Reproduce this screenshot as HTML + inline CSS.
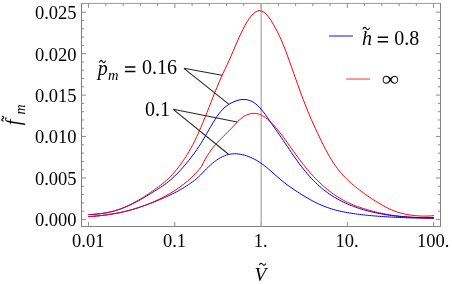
<!DOCTYPE html>
<html><head><meta charset="utf-8"><style>
html,body{margin:0;padding:0;background:#fff;}
svg{display:block;font-family:"Liberation Serif",serif;will-change:transform;}
text{fill:#000;}
</style></head><body>
<svg width="452" height="284" viewBox="0 0 452 284">
<rect width="452" height="284" fill="#fff"/>
<path d="M81.5 3.1V227.0M440.5 3.1V227.0M81.0 226.5H441.0" fill="none" stroke="#808080" stroke-width="1"/>
<path d="M81.0 3.45H441.0" fill="none" stroke="#808080" stroke-width="0.8"/>
<path d="M81.5 219.45h4.5 M440.5 219.45h-4.5 M81.5 211.16h2.6 M440.5 211.16h-2.6 M81.5 202.87h2.6 M440.5 202.87h-2.6 M81.5 194.58h2.6 M440.5 194.58h-2.6 M81.5 186.29h2.6 M440.5 186.29h-2.6 M81.5 178.00h4.5 M440.5 178.00h-4.5 M81.5 169.71h2.6 M440.5 169.71h-2.6 M81.5 161.42h2.6 M440.5 161.42h-2.6 M81.5 153.13h2.6 M440.5 153.13h-2.6 M81.5 144.84h2.6 M440.5 144.84h-2.6 M81.5 136.55h4.5 M440.5 136.55h-4.5 M81.5 128.26h2.6 M440.5 128.26h-2.6 M81.5 119.97h2.6 M440.5 119.97h-2.6 M81.5 111.68h2.6 M440.5 111.68h-2.6 M81.5 103.39h2.6 M440.5 103.39h-2.6 M81.5 95.10h4.5 M440.5 95.10h-4.5 M81.5 86.81h2.6 M440.5 86.81h-2.6 M81.5 78.52h2.6 M440.5 78.52h-2.6 M81.5 70.23h2.6 M440.5 70.23h-2.6 M81.5 61.94h2.6 M440.5 61.94h-2.6 M81.5 53.65h4.5 M440.5 53.65h-4.5 M81.5 45.36h2.6 M440.5 45.36h-2.6 M81.5 37.07h2.6 M440.5 37.07h-2.6 M81.5 28.78h2.6 M440.5 28.78h-2.6 M81.5 20.49h2.6 M440.5 20.49h-2.6 M81.5 12.20h4.5 M440.5 12.20h-4.5 M88.60 3.5v4.5 M105.85 3.5v2.6 M123.10 3.5v2.6 M140.35 3.5v2.6 M157.60 3.5v2.6 M174.85 3.5v4.5 M192.10 3.5v2.6 M209.35 3.5v2.6 M226.60 3.5v2.6 M243.85 3.5v2.6 M261.10 3.5v4.5 M278.35 3.5v2.6 M295.60 3.5v2.6 M312.85 3.5v2.6 M330.10 3.5v2.6 M347.35 3.5v4.5 M364.60 3.5v2.6 M381.85 3.5v2.6 M399.10 3.5v2.6 M416.35 3.5v2.6 M433.60 3.5v4.5 M88.60 226.5v-4.5 M174.85 226.5v-4.5 M261.10 226.5v-4.5 M347.35 226.5v-4.5 M433.60 226.5v-4.5" stroke="#808080" stroke-width="0.9" fill="none"/>
<line x1="261.2" y1="3.5" x2="261.2" y2="226.5" stroke="#b2b2b2" stroke-width="1.4"/>
<path d="M88.20 216.43L90.20 216.29L92.20 216.13L94.21 215.96L96.21 215.78L98.21 215.59L100.21 215.38L102.21 215.16L104.21 214.91L106.22 214.66L108.22 214.38L110.22 214.08L112.22 213.76L114.22 213.42L116.23 213.06L118.23 212.68L120.23 212.27L122.23 211.84L124.23 211.38L126.23 210.90L128.24 210.39L130.24 209.85L132.24 209.29L134.24 208.70L136.24 208.08L138.24 207.44L140.25 206.78L142.25 206.09L144.25 205.39L146.25 204.66L148.25 203.92L150.26 203.16L152.26 202.39L154.26 201.60L156.26 200.79L158.26 199.97L160.26 199.13L162.27 198.27L164.27 197.39L166.27 196.49L168.27 195.57L170.27 194.62L172.28 193.64L174.28 192.64L176.28 191.60L178.28 190.52L180.28 189.41L182.28 188.25L184.29 187.04L186.29 185.78L188.29 184.46L190.29 183.07L192.29 181.62L194.29 180.08L196.30 178.45L198.30 176.73L200.30 174.90L200.30 174.90L202.31 172.73L204.33 170.62L206.34 168.58L208.35 166.62L210.36 164.76L212.38 163.01L214.39 161.38L216.40 159.89L218.42 158.55L220.43 157.36L222.44 156.33L224.46 155.46L226.47 154.76L228.48 154.21L230.49 153.83L232.51 153.60L234.52 153.51L236.53 153.57L238.55 153.76L240.56 154.07L242.57 154.50L244.58 155.03L246.60 155.66L248.61 156.38L250.62 157.20L252.64 158.12L254.65 159.14L256.66 160.26L258.68 161.48L260.69 162.81L262.70 164.24L264.71 165.76L266.73 167.37L268.74 169.07L270.75 170.82L272.77 172.61L274.78 174.41L276.79 176.19L278.80 177.95L280.82 179.66L282.83 181.31L284.84 182.90L286.86 184.43L288.87 185.89L290.88 187.31L292.89 188.68L294.91 190.03L296.92 191.35L298.93 192.65L300.95 193.93L302.96 195.19L304.97 196.42L306.99 197.63L309.00 198.79L311.01 199.92L313.02 201.00L315.04 202.03L317.05 203.02L319.06 203.95L321.08 204.84L323.09 205.68L325.10 206.47L327.11 207.21L329.13 207.90L331.14 208.55L333.15 209.16L335.17 209.72L337.18 210.25L339.19 210.74L341.21 211.19L343.22 211.61L345.23 212.01L347.24 212.38L349.26 212.72L351.27 213.05L353.28 213.35L355.30 213.64L357.31 213.91L359.32 214.16L361.33 214.40L363.35 214.63L365.36 214.85L367.37 215.05L369.39 215.25L371.40 215.43L373.41 215.61L375.42 215.77L377.44 215.93L379.45 216.08L381.46 216.23L383.48 216.36L385.49 216.49L387.50 216.62L389.52 216.73L391.53 216.84L393.54 216.95L395.55 217.05L397.57 217.14L399.58 217.23L401.59 217.31L403.61 217.39L405.62 217.47L407.63 217.54L409.64 217.60L411.66 217.67L413.67 217.73L415.68 217.78L417.70 217.84L419.71 217.89L421.72 217.93L423.74 217.98L425.75 218.02L427.76 218.06L429.77 218.09L431.79 218.13L433.80 218.16" stroke="#0000ff" stroke-width="1" fill="none" stroke-linejoin="round" transform="translate(0.15,0.25)"/>
<path d="M88.20 216.43L90.22 216.28L92.23 216.12L94.25 215.95L96.26 215.76L98.28 215.56L100.30 215.35L102.31 215.12L104.33 214.87L106.34 214.60L108.36 214.31L110.38 214.01L112.39 213.68L114.41 213.34L116.42 212.97L118.44 212.57L120.46 212.16L122.47 211.72L124.49 211.25L126.51 210.76L128.52 210.24L130.54 209.70L132.55 209.13L134.57 208.53L136.59 207.91L138.60 207.26L140.62 206.57L142.63 205.86L144.65 205.12L146.67 204.35L148.68 203.55L150.70 202.72L152.71 201.86L154.73 200.96L156.75 200.04L158.76 199.09L160.78 198.10L162.79 197.08L164.81 196.02L166.83 194.92L168.84 193.79L170.86 192.61L172.88 191.38L174.89 190.11L176.91 188.78L178.92 187.39L180.94 185.94L182.96 184.42L184.97 182.84L186.99 181.17L189.00 179.41L191.02 177.56L193.04 175.61L195.05 173.55L197.07 171.37L199.08 169.06L201.10 166.59L201.10 166.58L203.10 162.65L205.10 158.96L207.10 155.55L209.10 152.42L211.10 149.56L213.10 146.95L215.10 144.57L217.10 142.35L219.10 140.26L221.10 138.24L223.10 136.24L225.10 134.26L227.10 132.29L229.10 130.29L231.10 128.26L233.10 126.17L235.10 123.99L237.10 121.70L237.10 121.70L239.11 119.78L241.11 118.08L243.12 116.62L245.13 115.40L247.14 114.43L249.14 113.72L251.15 113.27L253.16 113.08L255.16 113.15L257.17 113.48L259.18 114.06L261.19 114.89L263.19 115.97L265.20 117.27L267.21 118.79L269.21 120.52L271.22 122.44L273.23 124.54L275.24 126.79L277.24 129.18L279.25 131.69L281.26 134.30L283.26 136.99L285.27 139.74L287.28 142.54L289.29 145.36L291.29 148.18L293.30 150.99L295.31 153.77L297.31 156.52L299.32 159.22L301.33 161.86L303.34 164.43L305.34 166.92L307.35 169.35L309.36 171.70L311.36 173.97L313.37 176.16L315.38 178.28L317.39 180.32L319.39 182.28L321.40 184.16L323.41 185.97L325.41 187.70L327.42 189.36L329.43 190.94L331.44 192.46L333.44 193.90L335.45 195.28L337.46 196.59L339.46 197.84L341.47 199.02L343.48 200.14L345.49 201.20L347.49 202.20L349.50 203.14L351.51 204.02L353.51 204.85L355.52 205.63L357.53 206.36L359.54 207.06L361.54 207.72L363.55 208.36L365.56 208.97L367.56 209.55L369.57 210.12L371.58 210.67L373.59 211.20L375.59 211.71L377.60 212.20L379.61 212.66L381.61 213.10L383.62 213.51L385.63 213.90L387.64 214.27L389.64 214.60L391.65 214.92L393.66 215.21L395.66 215.48L397.67 215.73L399.68 215.96L401.69 216.17L403.69 216.36L405.70 216.53L407.71 216.69L409.71 216.83L411.72 216.96L413.73 217.08L415.74 217.18L417.74 217.26L419.75 217.34L421.76 217.40L423.76 217.45L425.77 217.49L427.78 217.52L429.79 217.53L431.79 217.53L433.80 217.51" stroke="#ff0000" stroke-width="1" fill="none" stroke-linejoin="round" transform="translate(0.15,0.25)"/>
<path d="M88.20 214.30L90.21 214.24L92.22 214.15L94.23 214.02L96.24 213.86L98.25 213.66L100.26 213.43L102.27 213.15L104.27 212.84L106.28 212.49L108.29 212.09L110.30 211.65L112.31 211.16L114.32 210.63L116.33 210.04L118.34 209.41L120.35 208.72L122.36 207.98L124.37 207.19L126.38 206.35L128.39 205.46L130.40 204.53L132.40 203.56L134.41 202.56L136.42 201.52L138.43 200.44L140.44 199.33L142.45 198.18L144.46 197.01L146.47 195.81L148.48 194.59L150.49 193.35L152.50 192.09L154.51 190.83L156.52 189.55L158.53 188.27L160.53 186.97L162.54 185.64L164.55 184.25L166.56 182.77L168.57 181.20L170.58 179.51L172.59 177.70L174.60 175.80L176.61 173.80L178.62 171.72L180.63 169.56L182.64 167.31L184.65 164.99L186.66 162.58L188.67 160.10L190.67 157.53L192.68 154.89L194.69 152.16L196.70 149.35L198.71 146.41L200.72 143.29L202.73 139.98L204.74 136.53L206.75 133.01L208.76 129.48L210.77 126.00L212.78 122.62L214.79 119.39L216.80 116.34L218.80 113.54L220.81 111.03L222.82 108.85L224.83 106.97L226.84 105.36L228.85 104.00L230.86 102.85L232.87 101.88L234.88 101.04L236.89 100.33L238.90 99.78L240.91 99.40L242.92 99.22L244.93 99.25L246.93 99.51L248.94 100.01L250.95 100.79L252.96 101.83L254.97 103.16L256.98 104.79L258.99 106.71L261.00 108.93L263.01 111.40L265.02 114.10L267.03 116.97L269.04 119.92L271.05 122.87L273.06 125.76L275.07 128.61L277.07 131.45L279.08 134.31L281.09 137.22L283.10 140.18L285.11 143.16L287.12 146.15L289.13 149.13L291.14 152.09L293.15 155.01L295.16 157.88L297.17 160.69L299.18 163.43L301.19 166.09L303.20 168.67L305.20 171.17L307.21 173.57L309.22 175.88L311.23 178.09L313.24 180.20L315.25 182.21L317.26 184.13L319.27 185.95L321.28 187.68L323.29 189.33L325.30 190.89L327.31 192.37L329.32 193.79L331.33 195.13L333.33 196.40L335.34 197.62L337.35 198.77L339.36 199.87L341.37 200.91L343.38 201.90L345.39 202.85L347.40 203.75L349.41 204.60L351.42 205.41L353.43 206.19L355.44 206.92L357.45 207.62L359.46 208.29L361.47 208.92L363.47 209.52L365.48 210.09L367.49 210.63L369.50 211.15L371.51 211.63L373.52 212.10L375.53 212.54L377.54 212.96L379.55 213.35L381.56 213.73L383.57 214.08L385.58 214.42L387.59 214.73L389.60 215.03L391.60 215.30L393.61 215.56L395.62 215.79L397.63 216.01L399.64 216.21L401.65 216.39L403.66 216.56L405.67 216.70L407.68 216.84L409.69 216.96L411.70 217.06L413.71 217.15L415.72 217.23L417.73 217.30L419.73 217.36L421.74 217.40L423.75 217.43L425.76 217.45L427.77 217.46L429.78 217.45L431.79 217.44L433.80 217.40" stroke="#0000ff" stroke-width="1" fill="none" stroke-linejoin="round" transform="translate(0.15,0.25)"/>
<path d="M88.20 214.30L90.21 214.25L92.22 214.17L94.23 214.05L96.24 213.89L98.25 213.69L100.26 213.46L102.27 213.18L104.27 212.87L106.28 212.51L108.29 212.10L110.30 211.65L112.31 211.15L114.32 210.59L116.33 209.98L118.34 209.32L120.35 208.60L122.36 207.82L124.37 206.99L126.38 206.10L128.39 205.17L130.40 204.18L132.40 203.16L134.41 202.09L136.42 200.97L138.43 199.82L140.44 198.62L142.45 197.38L144.46 196.11L146.47 194.80L148.48 193.45L150.49 192.08L152.50 190.67L154.51 189.24L156.52 187.79L158.53 186.31L160.53 184.79L162.54 183.22L164.55 181.58L166.56 179.83L168.57 177.97L170.58 175.97L172.59 173.83L174.60 171.55L176.61 169.14L178.62 166.59L180.63 163.91L182.64 161.09L184.65 158.10L186.66 154.94L188.67 151.60L190.67 148.07L192.68 144.32L194.69 140.35L196.70 136.14L198.71 131.71L200.72 127.09L202.73 122.31L204.74 117.39L206.75 112.35L208.76 107.26L210.77 102.15L212.78 97.06L214.79 92.05L216.80 87.14L218.80 82.34L220.81 77.70L222.82 73.25L224.83 68.94L226.84 64.68L228.85 60.35L230.86 55.85L232.87 51.17L234.88 46.46L236.89 41.80L238.90 37.27L240.91 32.94L242.92 28.85L244.93 25.04L246.93 21.57L248.94 18.49L250.95 15.84L252.96 13.66L254.97 12.01L256.98 10.93L258.99 10.45L261.00 10.61L263.01 11.43L265.02 12.92L267.03 15.01L269.04 17.58L271.05 20.56L273.06 23.84L275.07 27.35L277.07 31.14L279.08 35.23L281.09 39.67L283.10 44.46L285.11 49.57L287.12 54.91L289.13 60.43L291.14 66.07L293.15 71.77L295.16 77.47L297.17 83.15L299.18 88.74L301.19 94.23L303.20 99.59L305.20 104.78L307.21 109.81L309.22 114.66L311.23 119.31L313.24 123.80L315.25 128.19L317.26 132.51L319.27 136.77L321.28 140.95L323.29 145.02L325.30 148.93L327.31 152.67L329.32 156.22L331.33 159.57L333.33 162.71L335.34 165.64L337.35 168.36L339.36 170.89L341.37 173.25L343.38 175.47L345.39 177.57L347.40 179.55L349.41 181.44L351.42 183.25L353.43 184.98L355.44 186.65L357.45 188.26L359.46 189.82L361.47 191.34L363.47 192.81L365.48 194.25L367.49 195.66L369.50 197.03L371.51 198.37L373.52 199.67L375.53 200.95L377.54 202.19L379.55 203.39L381.56 204.56L383.57 205.70L385.58 206.78L387.59 207.81L389.60 208.78L391.60 209.68L393.61 210.50L395.62 211.26L397.63 211.94L399.64 212.56L401.65 213.11L403.66 213.60L405.67 214.03L407.68 214.41L409.69 214.73L411.70 215.01L413.71 215.25L415.72 215.44L417.73 215.60L419.73 215.72L421.74 215.80L423.75 215.84L425.76 215.84L427.77 215.81L429.78 215.72L431.79 215.59L433.80 215.40" stroke="#ff0000" stroke-width="1" fill="none" stroke-linejoin="round" transform="translate(0.15,0.25)"/>
<path d="M183.9 68.3L221.9 75.3M183.9 68.3L228.7 104.2M173.2 109.3L237.1 122M173.2 109.3L228.8 154.5" stroke="#262626" stroke-width="1.05" fill="none"/>
<line x1="329" y1="36" x2="353" y2="36" stroke="#7c7cff" stroke-width="1.8"/>
<line x1="346.2" y1="79.05" x2="370" y2="79.05" stroke="#ff7878" stroke-width="1.5"/>
<text x="76.5" y="226.35" text-anchor="end" font-size="18.5">0.000</text>
<text x="76.5" y="184.90" text-anchor="end" font-size="18.5">0.005</text>
<text x="76.5" y="143.45" text-anchor="end" font-size="18.5">0.010</text>
<text x="76.5" y="102.00" text-anchor="end" font-size="18.5">0.015</text>
<text x="76.5" y="60.55" text-anchor="end" font-size="18.5">0.020</text>
<text x="76.5" y="19.10" text-anchor="end" font-size="18.5">0.025</text>
<text x="88.20" y="247.1" text-anchor="middle" font-size="18.5">0.01</text>
<text x="174.45" y="247.1" text-anchor="middle" font-size="18.5">0.1</text>
<text x="260.70" y="247.1" text-anchor="middle" font-size="18.5">1.</text>
<text x="346.95" y="247.1" text-anchor="middle" font-size="18.5">10.</text>
<text x="433.20" y="247.1" text-anchor="middle" font-size="18.5">100.</text>
<text x="254.5" y="281.4" font-size="19.4" font-style="italic">V</text>
<path d="M259.30 264.96Q260.95 261.90 262.60 264.20T265.90 263.44" stroke="#000" stroke-width="1.05" fill="none"/>
<g transform="translate(19.5,123.7) rotate(-90)"><text x="-1.5" y="0" font-size="20" font-style="italic">f</text><path d="M2.40 -15.99Q3.70 -19.22 5.00 -16.80T7.60 -17.61" stroke="#000" stroke-width="1.05" fill="none"/><text x="9.2" y="5.5" font-size="14" font-style="italic">m</text></g>
<text x="97.7" y="74.5" font-size="20" font-style="italic">p</text><path d="M99.30 62.54Q100.85 58.80 102.40 61.60T105.50 60.66" stroke="#000" stroke-width="1.05" fill="none"/><text x="108" y="79.8" font-size="14.5" font-style="italic">m</text><path d="M125 67.00h10.4M125 71.50h10.4" stroke="#000" stroke-width="1.4" fill="none"/><text x="142.1" y="74.1" font-size="20">0.16</text>
<text x="145.0" y="116.0" font-size="20">0.1</text>
<text x="362" y="44.8" font-size="20" font-style="italic">h</text><path d="M362.70 29.39Q364.45 25.82 366.20 28.50T369.70 27.61" stroke="#000" stroke-width="1.05" fill="none"/><path d="M377.7 37.30h10.4M377.7 41.80h10.4" stroke="#000" stroke-width="1.4" fill="none"/><text x="394.2" y="44.8" font-size="20">0.8</text>
<text transform="translate(390.5,86.2) scale(1.06,0.94)" x="0" y="0" font-size="23" text-anchor="middle">∞</text>
</svg>
</body></html>
